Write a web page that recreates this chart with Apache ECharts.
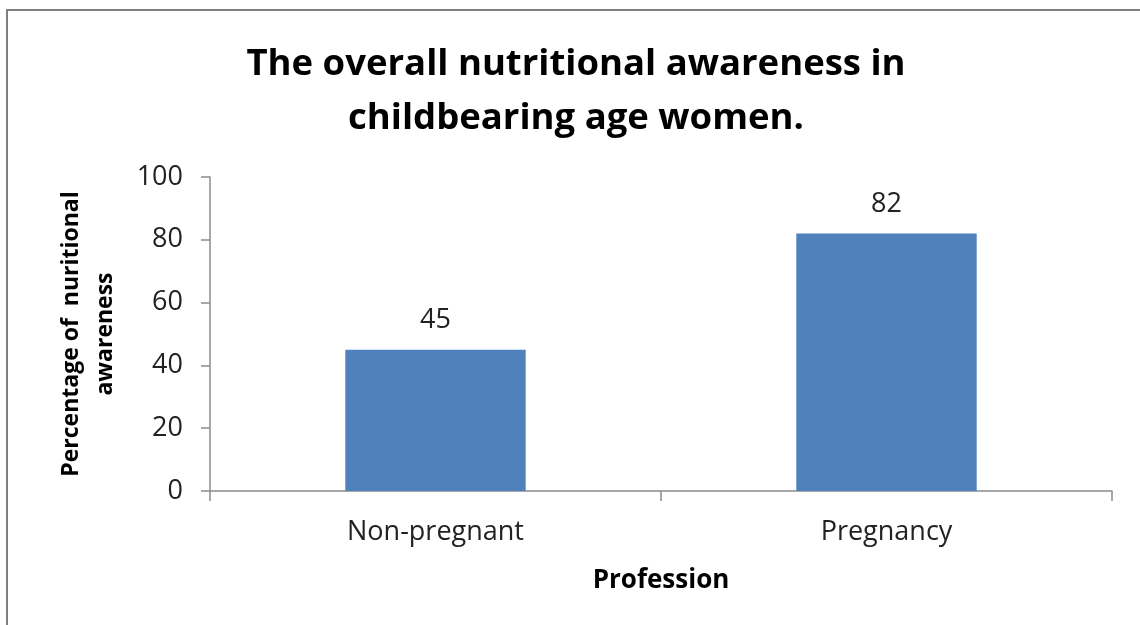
<!DOCTYPE html>
<html>
<head>
<meta charset="utf-8">
<script src="https://cdn.jsdelivr.net/npm/echarts@6/dist/echarts.min.js"></script>
<style>html,body{margin:0;padding:0;background:#fff;}#c{width:1140px;height:625px;}</style>
</head>
<body>
<div id="c"></div>
<script>
const categories = ['Non-pregnant', 'Pregnancy'];
const values = [45, 82];
const yTicks = [0, 20, 40, 60, 80, 100];
const titleText = 'The overall nutritional awareness in\nchildbearing age women.';
const yName = 'Percentage of  nuritional\nawareness';
const xName = 'Profession';

const FONT = 'Open Sans';
const chart = echarts.init(document.getElementById('c'), null, {renderer: 'canvas'});
chart.setOption({
  backgroundColor: '#fff',
  animation: false,
  graphic: [{
    type: 'rect', shape: {x: 7, y: 10, width: 1160, height: 640},
    style: {fill: 'none', stroke: '#7f7f7f', lineWidth: 2}, silent: true
  }],
  title: {
    text: titleText, left: 571, top: 33, textAlign: 'center',
    textStyle: {fontFamily: FONT, fontWeight: 'bold', fontSize: 36.5, color: '#000', lineHeight: 54}
  },
  grid: {left: 210, right: 28, top: 177, bottom: 134, containLabel: false},
  xAxis: {
    type: 'category', data: categories,
    name: xName, nameLocation: 'middle', nameGap: 77,
    nameTextStyle: {fontFamily: FONT, fontWeight: 'bold', fontSize: 26, color: '#000'},
    axisLine: {lineStyle: {color: '#8c8c8c', width: 1.5}},
    axisTick: {show: true, length: 10, alignWithLabel: false, lineStyle: {color: '#8c8c8c', width: 1.5}},
    axisLabel: {fontFamily: FONT, fontSize: 27, color: '#222', margin: 28}
  },
  yAxis: {
    type: 'value', min: 0, max: 100, interval: 20,
    name: yName, nameLocation: 'middle', nameGap: 88, nameRotate: 90,
    nameTextStyle: {fontFamily: FONT, fontWeight: 'bold', fontSize: 23, color: '#000', lineHeight: 34},
    axisLine: {show: true, lineStyle: {color: '#8c8c8c', width: 1.5}},
    axisTick: {show: true, length: 9, lineStyle: {color: '#8c8c8c', width: 1.5}},
    splitLine: {show: false},
    axisLabel: {fontFamily: FONT, fontSize: 27, color: '#222', margin: 27,
      formatter: v => yTicks.includes(v) ? String(v) : ''}
  },
  series: [{
    type: 'bar', data: values, barWidth: '40%',
    itemStyle: {color: '#4F81BD'},
    label: {show: true, position: 'top', distance: 16, fontFamily: FONT, fontSize: 27, color: '#222'}
  }]
});
</script>
</body>
</html>
